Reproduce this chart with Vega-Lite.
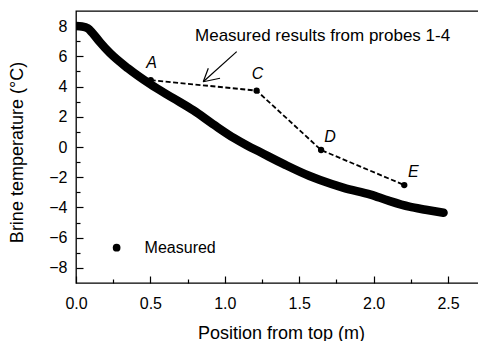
{
  "$schema": "https://vega.github.io/schema/vega-lite/v6.json",
  "autosize": {"type": "none"},
  "padding": {"left": 76, "top": 11, "right": 0, "bottom": 58},
  "width": 404,
  "height": 272,
  "config": {
    "font": "Liberation Sans",
    "view": {"stroke": "black", "strokeWidth": 1.3, "fill": null},
    "axis": {
      "grid": false,
      "zindex": 1,
      "domain": false,
      "ticks": true,
      "tickColor": "black",
      "tickWidth": 1.2,
      "labelColor": "black",
      "titleColor": "black",
      "labelFont": "Liberation Sans",
      "titleFont": "Liberation Sans",
      "labelFontSize": 16,
      "titleFontSize": 18,
      "titleFontWeight": "normal",
      "labelFlush": false,
      "labelOverlap": false
    }
  },
  "resolve": {"axis": {"x": "independent", "y": "independent"}},
  "datasets": {
    "curve": [
      {"pos": 0.00, "temp": 8.0},
      {"pos": 0.04, "temp": 7.97},
      {"pos": 0.08, "temp": 7.85},
      {"pos": 0.11, "temp": 7.55},
      {"pos": 0.16, "temp": 6.95},
      {"pos": 0.23, "temp": 6.2},
      {"pos": 0.35, "temp": 5.2},
      {"pos": 0.50, "temp": 4.15},
      {"pos": 0.65, "temp": 3.25},
      {"pos": 0.79, "temp": 2.42},
      {"pos": 0.93, "temp": 1.45},
      {"pos": 1.06, "temp": 0.6},
      {"pos": 1.15, "temp": 0.1},
      {"pos": 1.24, "temp": -0.35},
      {"pos": 1.40, "temp": -1.15},
      {"pos": 1.57, "temp": -1.92},
      {"pos": 1.64, "temp": -2.18},
      {"pos": 1.80, "temp": -2.7},
      {"pos": 1.98, "temp": -3.15},
      {"pos": 2.10, "temp": -3.55},
      {"pos": 2.24, "temp": -3.95},
      {"pos": 2.35, "temp": -4.15},
      {"pos": 2.47, "temp": -4.35}
    ],
    "measured": [
      {"pos": 0.502, "temp": 4.43, "probe": "A"},
      {"pos": 1.214, "temp": 3.73, "probe": "C"},
      {"pos": 1.647, "temp": -0.2, "probe": "D"},
      {"pos": 2.206, "temp": -2.52, "probe": "E"}
    ],
    "arrow": [
      {"pos": 1.08, "temp": 6.31, "pos2": 0.855, "temp2": 4.32},
      {"pos": 0.855, "temp": 4.32, "pos2": 0.889, "temp2": 5.21},
      {"pos": 0.855, "temp": 4.32, "pos2": 0.968, "temp2": 4.55}
    ],
    "note": [
      {"pos": 0.80, "temp": 7.03, "text": "Measured results from probes 1-4"}
    ],
    "legend": [
      {"pos": 0.273, "temp": -6.66, "label": "Measured"}
    ]
  },
  "layer": [
    {
      "data": {"name": "curve"},
      "mark": {"type": "line", "color": "black", "strokeWidth": 8.5, "strokeCap": "round", "strokeJoin": "round", "interpolate": "monotone", "clip": true},
      "encoding": {
        "x": {
          "field": "pos", "type": "quantitative",
          "scale": {"domain": [0, 2.715], "nice": false, "zero": false},
          "axis": {
            "orient": "bottom",
            "offset": -7,
            "title": "Position from top (m)",
            "values": [0, 0.5, 1, 1.5, 2, 2.5],
            "format": ".1f",
            "tickSize": 7,
            "labelPadding": 12,
            "titleX": 205,
            "titleY": 48,
            "titleBaseline": "top"
          }
        },
        "y": {
          "field": "temp", "type": "quantitative",
          "scale": {"domain": [-9, 9], "nice": false, "zero": false},
          "axis": {
            "orient": "left",
            "offset": -7,
            "title": "Brine temperature (\u00b0C)",
            "values": [-8, -6, -4, -2, 0, 2, 4, 6, 8],
            "tickSize": 7,
            "labelPadding": 9,
            "titleX": -57,
            "titleY": 141
          }
        }
      }
    },
    {
      "data": {"name": "measured"},
      "mark": {"type": "line", "color": "black", "strokeWidth": 1.8, "strokeDash": [5, 2.5]},
      "encoding": {
        "x": {
          "field": "pos", "type": "quantitative",
          "axis": {"orient": "bottom", "offset": -4, "values": [0.25, 0.75, 1.25, 1.75, 2.25], "labels": false, "title": null, "tickSize": 4}
        },
        "y": {
          "field": "temp", "type": "quantitative",
          "axis": {"orient": "left", "offset": -4, "values": [-7, -5, -3, -1, 1, 3, 5, 7], "labels": false, "title": null, "tickSize": 4}
        }
      }
    },
    {
      "data": {"name": "measured"},
      "mark": {"type": "point", "filled": true, "color": "black", "opacity": 1, "size": 40},
      "encoding": {
        "x": {"field": "pos", "type": "quantitative", "axis": null},
        "y": {"field": "temp", "type": "quantitative", "axis": null}
      }
    },
    {
      "data": {"name": "measured"},
      "transform": [{"filter": "datum.probe == 'A' || datum.probe == 'C'"}],
      "mark": {"type": "text", "fontStyle": "italic", "fontSize": 16, "dx": 1, "dy": -17, "color": "black"},
      "encoding": {
        "x": {"field": "pos", "type": "quantitative", "axis": null},
        "y": {"field": "temp", "type": "quantitative", "axis": null},
        "text": {"field": "probe"}
      }
    },
    {
      "data": {"name": "measured"},
      "transform": [{"filter": "datum.probe == 'D' || datum.probe == 'E'"}],
      "mark": {"type": "text", "fontStyle": "italic", "fontSize": 16, "dx": 9, "dy": -13, "color": "black"},
      "encoding": {
        "x": {"field": "pos", "type": "quantitative", "axis": null},
        "y": {"field": "temp", "type": "quantitative", "axis": null},
        "text": {"field": "probe"}
      }
    },
    {
      "data": {"name": "arrow"},
      "mark": {"type": "rule", "color": "black", "strokeWidth": 1.2},
      "encoding": {
        "x": {"field": "pos", "type": "quantitative", "axis": null},
        "y": {"field": "temp", "type": "quantitative", "axis": null},
        "x2": {"field": "pos2"},
        "y2": {"field": "temp2"}
      }
    },
    {
      "data": {"name": "note"},
      "mark": {"type": "text", "align": "left", "baseline": "alphabetic", "fontSize": 17, "color": "black"},
      "encoding": {
        "x": {"field": "pos", "type": "quantitative", "axis": null},
        "y": {"field": "temp", "type": "quantitative", "axis": null},
        "text": {"field": "text"}
      }
    },
    {
      "data": {"name": "legend"},
      "mark": {"type": "point", "filled": true, "color": "black", "opacity": 1, "size": 60},
      "encoding": {
        "x": {"field": "pos", "type": "quantitative", "axis": null},
        "y": {"field": "temp", "type": "quantitative", "axis": null}
      }
    },
    {
      "data": {"name": "legend"},
      "mark": {"type": "text", "align": "left", "baseline": "middle", "fontSize": 16, "dx": 28, "color": "black"},
      "encoding": {
        "x": {"field": "pos", "type": "quantitative", "axis": null},
        "y": {"field": "temp", "type": "quantitative", "axis": null},
        "text": {"field": "label"}
      }
    }
  ]
}
